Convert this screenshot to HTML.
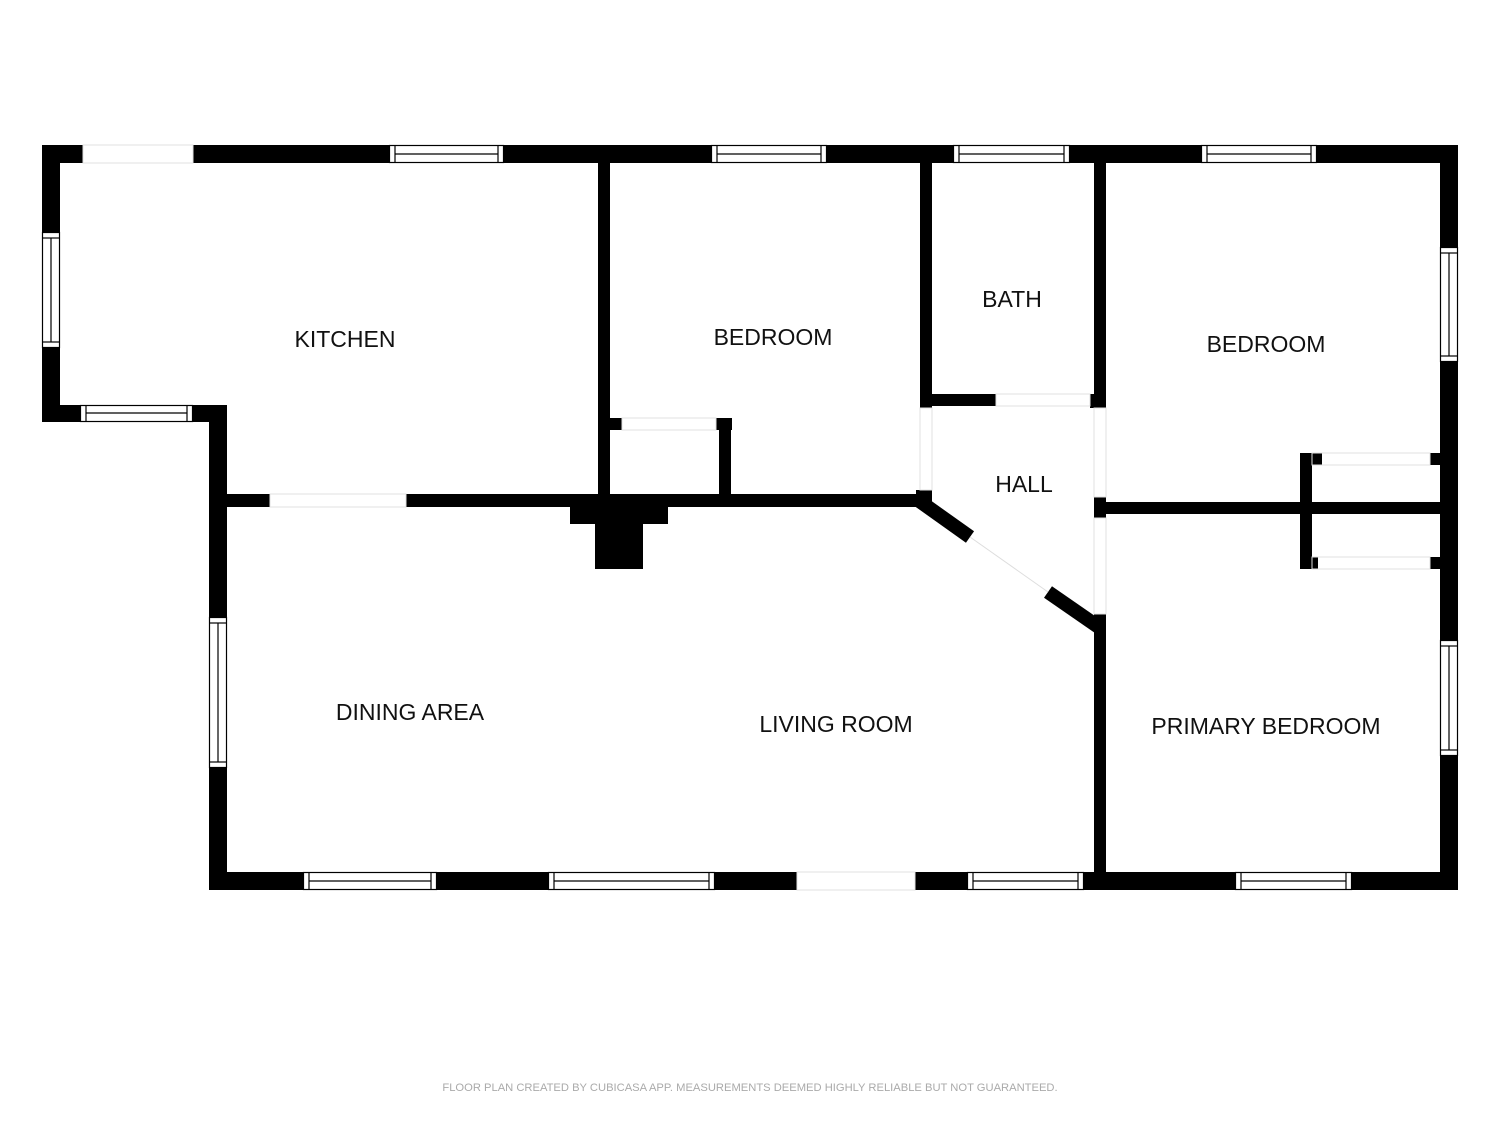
<!DOCTYPE html>
<html><head><meta charset="utf-8"><style>
html,body{margin:0;padding:0;background:#fff;}
svg{display:block;}
text{font-family:"Liberation Sans",sans-serif;}
</style></head><body>
<svg width="1500" height="1125" viewBox="0 0 1500 1125" xmlns="http://www.w3.org/2000/svg">
<rect width="1500" height="1125" fill="#fff"/>
<g fill="#000">
<rect x="42" y="145" width="41" height="18"/>
<rect x="193" y="145" width="196" height="18"/>
<rect x="504" y="145" width="207" height="18"/>
<rect x="827" y="145" width="126" height="18"/>
<rect x="1070" y="145" width="131" height="18"/>
<rect x="1317" y="145" width="141" height="18"/>
<rect x="42" y="145" width="18" height="87"/>
<rect x="42" y="348" width="18" height="74"/>
<rect x="42" y="405" width="38" height="17"/>
<rect x="193" y="405" width="34" height="17"/>
<rect x="209" y="405" width="18" height="212"/>
<rect x="209" y="768" width="18" height="122"/>
<rect x="209" y="872" width="94" height="18"/>
<rect x="437" y="872" width="111" height="18"/>
<rect x="715" y="872" width="82" height="18"/>
<rect x="915" y="872" width="52" height="18"/>
<rect x="1084" y="872" width="151" height="18"/>
<rect x="1352" y="872" width="106" height="18"/>
<rect x="1440" y="145" width="18" height="102"/>
<rect x="1440" y="362" width="18" height="278"/>
<rect x="1440" y="756" width="18" height="134"/>
<rect x="598" y="163" width="12" height="344"/>
<rect x="227" y="494" width="43" height="13"/>
<rect x="406" y="494" width="514" height="13"/>
<rect x="598" y="418" width="24" height="12"/>
<rect x="716" y="418" width="16" height="12"/>
<rect x="719" y="418" width="12" height="80"/>
<rect x="570" y="507" width="98" height="17"/>
<rect x="595" y="507" width="48" height="62"/>
<rect x="920" y="163" width="12" height="245"/>
<rect x="920" y="394" width="76" height="12"/>
<rect x="1090" y="394" width="16" height="14"/>
<rect x="1094" y="163" width="12" height="245"/>
<rect x="916" y="490" width="16" height="15"/>
<rect x="1094" y="497" width="12" height="21"/>
<rect x="1094" y="614" width="12" height="276"/>
<rect x="1106" y="502" width="334" height="12"/>
<rect x="1300" y="453" width="12" height="116"/>
<rect x="1300" y="453" width="22" height="12"/>
<rect x="1300" y="557" width="18" height="12"/>
<rect x="1430" y="453" width="10" height="12"/>
<rect x="1430" y="557" width="10" height="12"/>
</g>
<g stroke="#000" stroke-width="14">
<line x1="918" y1="500" x2="970" y2="537"/>
<line x1="1048" y1="592" x2="1100" y2="628"/>
</g>
<line x1="970" y1="537" x2="1048" y2="592" stroke="#ddd" stroke-width="1"/>
<g stroke="#e0e0e0" stroke-width="1" fill="none">
<rect x="83" y="145" width="110" height="18"/>
<rect x="797" y="872" width="118" height="18"/>
<rect x="270" y="494" width="136" height="13"/>
<rect x="622" y="418" width="94" height="12"/>
<rect x="996" y="394" width="94" height="12"/>
<rect x="920" y="408" width="12" height="82"/>
<rect x="1094" y="408" width="12" height="89"/>
<rect x="1094" y="518" width="12" height="96"/>
<rect x="1312" y="453" width="118" height="12"/>
<rect x="1312" y="557" width="118" height="12"/>
</g>
<g fill="#fff" stroke="#000" stroke-width="1.2">
<g><rect x="389.5" y="145.5" width="114" height="17"/><line x1="395" y1="146" x2="395" y2="162"/><line x1="498" y1="146" x2="498" y2="162"/><line x1="395" y1="154" x2="498" y2="154"/></g>
<g><rect x="711.5" y="145.5" width="115" height="17"/><line x1="717" y1="146" x2="717" y2="162"/><line x1="821" y1="146" x2="821" y2="162"/><line x1="717" y1="154" x2="821" y2="154"/></g>
<g><rect x="953.5" y="145.5" width="116" height="17"/><line x1="959" y1="146" x2="959" y2="162"/><line x1="1064" y1="146" x2="1064" y2="162"/><line x1="959" y1="154" x2="1064" y2="154"/></g>
<g><rect x="1201.5" y="145.5" width="115" height="17"/><line x1="1207" y1="146" x2="1207" y2="162"/><line x1="1311" y1="146" x2="1311" y2="162"/><line x1="1207" y1="154" x2="1311" y2="154"/></g>
<g><rect x="80.5" y="405.5" width="112" height="16"/><line x1="86" y1="406" x2="86" y2="421"/><line x1="187" y1="406" x2="187" y2="421"/><line x1="86" y1="413" x2="187" y2="413"/></g>
<g><rect x="303.5" y="872.5" width="133" height="17"/><line x1="309" y1="873" x2="309" y2="889"/><line x1="431" y1="873" x2="431" y2="889"/><line x1="309" y1="881" x2="431" y2="881"/></g>
<g><rect x="548.5" y="872.5" width="166" height="17"/><line x1="554" y1="873" x2="554" y2="889"/><line x1="709" y1="873" x2="709" y2="889"/><line x1="554" y1="881" x2="709" y2="881"/></g>
<g><rect x="967.5" y="872.5" width="116" height="17"/><line x1="973" y1="873" x2="973" y2="889"/><line x1="1078" y1="873" x2="1078" y2="889"/><line x1="973" y1="881" x2="1078" y2="881"/></g>
<g><rect x="1235.5" y="872.5" width="116" height="17"/><line x1="1241" y1="873" x2="1241" y2="889"/><line x1="1346" y1="873" x2="1346" y2="889"/><line x1="1241" y1="881" x2="1346" y2="881"/></g>
<g><rect x="42.5" y="232.5" width="17" height="115"/><line x1="43" y1="238" x2="59" y2="238"/><line x1="43" y1="342" x2="59" y2="342"/><line x1="51" y1="238" x2="51" y2="342"/></g>
<g><rect x="209.5" y="617.5" width="17" height="150"/><line x1="210" y1="623" x2="226" y2="623"/><line x1="210" y1="762" x2="226" y2="762"/><line x1="218" y1="623" x2="218" y2="762"/></g>
<g><rect x="1440.5" y="247.5" width="17" height="114"/><line x1="1441" y1="253" x2="1457" y2="253"/><line x1="1441" y1="356" x2="1457" y2="356"/><line x1="1449" y1="253" x2="1449" y2="356"/></g>
<g><rect x="1440.5" y="640.5" width="17" height="115"/><line x1="1441" y1="646" x2="1457" y2="646"/><line x1="1441" y1="750" x2="1457" y2="750"/><line x1="1449" y1="646" x2="1449" y2="750"/></g>
</g>
<g font-size="23" fill="#111" text-anchor="middle">
<text x="345" y="347">KITCHEN</text>
<text x="773" y="345">BEDROOM</text>
<text x="1012" y="307">BATH</text>
<text x="1266" y="352">BEDROOM</text>
<text x="1024" y="492">HALL</text>
<text x="410" y="720">DINING AREA</text>
<text x="836" y="732">LIVING ROOM</text>
<text x="1266" y="734">PRIMARY BEDROOM</text>
</g>
<text x="750" y="1091" font-size="11.2" fill="#aaa" text-anchor="middle">FLOOR PLAN CREATED BY CUBICASA APP. MEASUREMENTS DEEMED HIGHLY RELIABLE BUT NOT GUARANTEED.</text>
</svg>
</body></html>
